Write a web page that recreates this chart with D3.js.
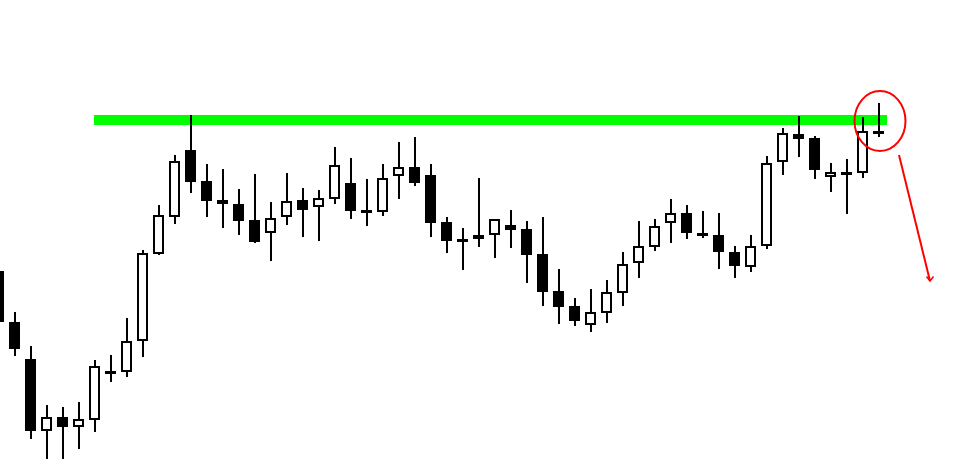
<!DOCTYPE html>
<html>
<head>
<meta charset="utf-8">
<script src="https://cdn.jsdelivr.net/npm/d3@7"></script>
<style>
  html, body { margin: 0; padding: 0; background: #ffffff; }
  svg { display: block; }
</style>
</head>
<body>
<svg id="chart" width="959" height="468"></svg>
<script>
// Candle data (price units, higher = higher price)
const candleIndex = d3.range(56);
const opens  = [229,178,141,69,83,73,80,129,128,159,246,283,350,319,300,296,280,267,283,300,293,301,317,290,288,324,333,325,278,261,261,265,275,271,246,209,194,175,187,207,237,253,277,287,267,265,248,233,254,338,366,362,323,328,327,369];
const highs  = [230,188,154,95,93,98,140,145,182,250,295,345,385,336,331,311,326,298,327,312,310,353,342,321,336,358,363,336,283,272,322,281,290,279,283,231,202,211,220,248,279,281,301,295,289,287,254,265,344,372,384,364,337,341,383,397];
const lows   = [177,144,61,41,41,51,68,118,123,143,245,276,307,283,272,265,257,239,275,263,259,296,281,274,284,301,314,263,247,230,253,242,252,217,194,176,174,168,177,194,222,249,257,261,262,231,222,228,251,325,343,321,308,286,322,363];
const closes = [178,151,69,83,73,81,134,128,159,247,285,339,318,299,296,279,258,282,299,290,302,335,289,289,322,333,317,277,259,259,265,281,270,245,208,193,179,188,208,236,254,274,287,267,266,248,234,254,337,367,361,330,328,327,369,367];

// Resistance level and annotation
const resistanceLevel = [{ price: 380, from: 6, to: 55 }];

const candles = candleIndex.map(i => ({
  i, o: opens[i], h: highs[i], l: lows[i], c: closes[i]
}));

const svg = d3.select("#chart");
const x = d3.scaleLinear().domain([0, 55]).range([-1, 879]);
const y = d3.scaleLinear().domain([0, 500]).range([500, 0]);

// Green resistance band
const res = resistanceLevel[0];
svg.append("rect")
  .attr("x", 94)
  .attr("y", y(res.price + 5))
  .attr("width", 887 - 94)
  .attr("height", 10)
  .attr("fill", "#00ff00");

// Candles
const g = svg.append("g");
const cg = g.selectAll("g.candle").data(candles).join("g").attr("class", "candle");

cg.append("line")
  .attr("x1", d => x(d.i)).attr("x2", d => x(d.i))
  .attr("y1", d => y(d.h)).attr("y2", d => y(d.l))
  .attr("stroke", "#000").attr("stroke-width", 2);

cg.each(function(d) {
  const sel = d3.select(this);
  const top = y(Math.max(d.o, d.c));
  const bot = y(Math.min(d.o, d.c));
  const cx = x(d.i);
  const bull = d.c > d.o;
  if (bull && bot - top > 3) {
    sel.append("rect")
      .attr("x", cx - 5).attr("y", top + 1)
      .attr("width", 9).attr("height", bot - top - 2)
      .attr("fill", "#fff").attr("stroke", "#000").attr("stroke-width", 2);
  } else {
    const h = Math.max(bot - top, 3);
    sel.append("rect")
      .attr("x", cx - 6).attr("y", top)
      .attr("width", 11).attr("height", h)
      .attr("fill", "#000");
  }
});

// Red circle around last candle
svg.append("ellipse")
  .attr("cx", 880).attr("cy", y(379))
  .attr("rx", 25.5).attr("ry", 30)
  .attr("fill", "none").attr("stroke", "#ff0000").attr("stroke-width", 2);

// Red arrow
svg.append("line")
  .attr("x1", 899).attr("y1", 155).attr("x2", 930).attr("y2", 281)
  .attr("stroke", "#ff0000").attr("stroke-width", 2);
svg.append("path")
  .attr("d", "M926.5,276.5 L930,281 L933.5,276.5")
  .attr("fill", "none").attr("stroke", "#ff0000").attr("stroke-width", 1.5);
</script>
</body>
</html>
